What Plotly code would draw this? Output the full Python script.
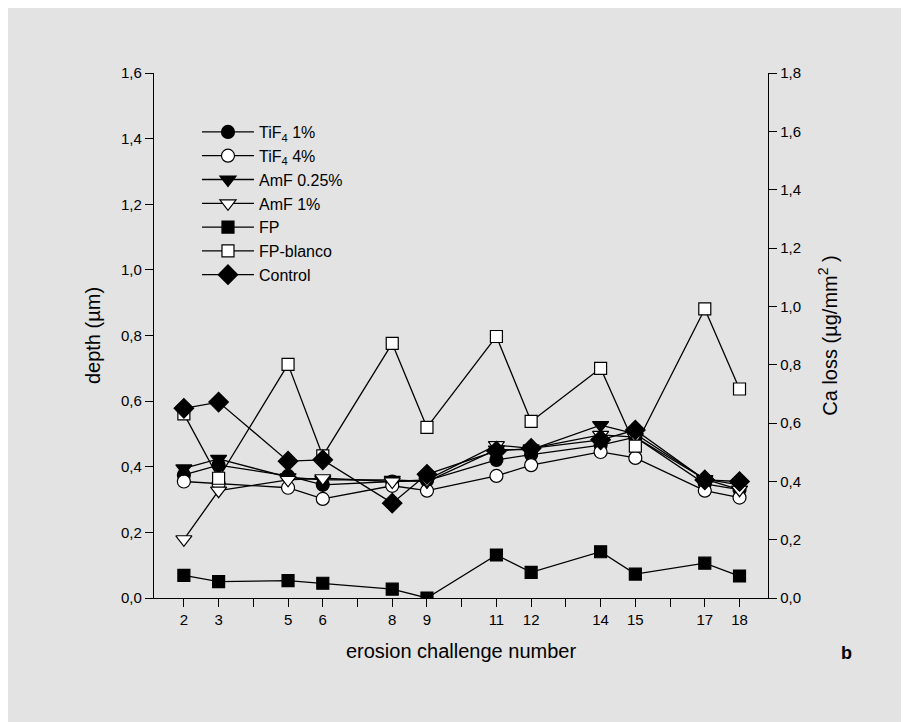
import plotly.graph_objects as go

challenges = [2, 3, 5, 6, 8, 9, 11, 12, 14, 15, 17, 18]
tif4_1 = [0.375, 0.405, 0.372, 0.345, 0.355, 0.358, 0.421, 0.437, 0.466, 0.49, 0.348, 0.33]
tif4_4 = [0.355, 0.348, 0.336, 0.302, 0.342, 0.327, 0.372, 0.405, 0.445, 0.427, 0.327, 0.306]
amf_025 = [0.395, 0.424, 0.368, 0.36, 0.36, 0.355, 0.452, 0.452, 0.527, 0.50, 0.362, 0.345]
amf_1 = [0.179, 0.327, 0.36, 0.365, 0.355, 0.36, 0.466, 0.456, 0.497, 0.49, 0.362, 0.33]
fp = [0.069, 0.050, 0.053, 0.045, 0.027, 0.0, 0.131, 0.078, 0.141, 0.073, 0.106, 0.067]
fp_blanco = [0.561, 0.365, 0.712, 0.433, 0.776, 0.520, 0.797, 0.538, 0.700, 0.463, 0.881, 0.637]
control = [0.578, 0.597, 0.417, 0.421, 0.289, 0.377, 0.448, 0.456, 0.482, 0.512, 0.36, 0.355]

series_names = ["TiF<sub>4</sub> 1%", "TiF<sub>4</sub> 4%", "AmF 0.25%", "AmF 1%", "FP", "FP-blanco", "Control"]
series_values = [tif4_1, tif4_4, amf_025, amf_1, fp, fp_blanco, control]
series_symbols = ["circle", "circle", "triangle-down", "triangle-down", "square", "square", "diamond"]
series_fill = ["black", "white", "black", "white", "black", "white", "black"]
series_sizes = [13, 13, 14, 14, 12, 12, 15]

x_ticks = list(range(2, 19))
x_ticktext = [str(v) if v in challenges else "" for v in x_ticks]

BG = "#e3e3e3"
FONT = "Liberation Sans, Arial, sans-serif"

# plot area in figure pixels
L, R, T, B = 146, 149, 65, 132
W, H = 909, 722
PW, PH = W - L - R, H - T - B

fig = go.Figure()
for i, (name, vals, sym, fill, sz) in enumerate(zip(series_names, series_values, series_symbols, series_fill, series_sizes)):
    fig.add_trace(go.Scatter(
        x=challenges, y=vals, name=name, mode="lines+markers", legendgroup=f"g{i}",
        line=dict(color="black", width=1.3),
        marker=dict(symbol=sym, size=sz, color=fill,
                    line=dict(color="black", width=1.2)),
    ))

# dummy trace to display right axis
fig.add_trace(go.Scatter(x=[None], y=[None], yaxis="y2", showlegend=False, hoverinfo="skip"))

axis_common = dict(ticks="outside", ticklen=8, tickwidth=1, tickcolor="black",
                   showline=True, linecolor="black", linewidth=1.3, showgrid=False,
                   zeroline=False, tickfont=dict(size=15))

fig.update_layout(
    width=W, height=H,
    paper_bgcolor=BG, plot_bgcolor=BG,
    separators=",.",
    font=dict(family=FONT, size=15, color="black"),
    margin=dict(l=L, r=R, t=T, b=B),
    showlegend=True,
    legend=dict(x=0.07, y=1 - (107 - 65) / PH, xanchor="left", yanchor="top",
                bgcolor="rgba(0,0,0,0)", font=dict(size=16, family=FONT),
                tracegroupgap=0, itemwidth=52),
    xaxis=dict(range=[1.14, 18.82], tickvals=x_ticks, ticktext=x_ticktext,
               title=dict(text="erosion challenge number", font=dict(size=20), standoff=16),
               **axis_common),
    yaxis=dict(range=[0, 1.6], dtick=0.2, tickformat=".1f",
               title=dict(text="depth (µm)", font=dict(size=20), standoff=14),
               **axis_common),
    yaxis2=dict(range=[0, 1.8], dtick=0.2, tickformat=".1f", overlaying="y", side="right",
                title=dict(text="Ca loss (µg/mm<sup>2</sup> )", font=dict(size=20), standoff=22),
                **axis_common),
    annotations=[dict(text="<b>b</b>", x=(838 - L) / PW, y=(H - B - 645) / PH,
                      xref="paper", yref="paper", xanchor="center", yanchor="middle",
                      showarrow=False, font=dict(size=18))],
)

fig.write_html("out.html")
